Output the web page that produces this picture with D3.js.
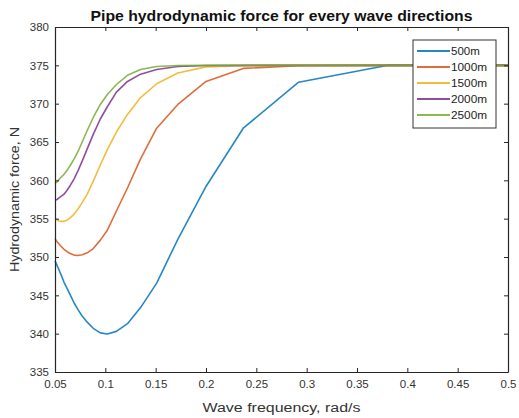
<!DOCTYPE html>
<html><head><meta charset="utf-8">
<script src="https://cdn.jsdelivr.net/npm/d3@7"></script>
<style>body{margin:0;background:#fff;} svg{display:block;font-family:"Liberation Sans",Arial,sans-serif;}</style>
</head><body>
<svg id="c" width="519" height="418"></svg>
<script>
const freqs = [0.05,0.052,0.054,0.056,0.059,0.062,0.065,0.069,0.073,0.077,0.082,0.088,0.095,0.102,0.111,0.122,0.135,0.151,0.172,0.2,0.237,0.292,0.381,0.5];
const d500  = [349.5,348.9,348.3,347.7,346.7,345.9,345.1,344.0,343.1,342.3,341.5,340.7,340.1,339.95,340.3,341.3,343.4,346.6,352.3,359.2,366.8,372.8,375.0,375.0];
const d1000 = [352.4,352.0,351.7,351.4,351.0,350.7,350.45,350.25,350.2,350.3,350.55,351.1,352.2,353.5,356.0,359.0,362.8,366.8,369.9,372.9,374.6,374.95,375.0,375.0];
const d1500 = [355.0,354.85,354.7,354.65,354.65,354.8,355.1,355.6,356.3,357.1,358.2,359.9,362.0,364.0,366.3,368.6,370.8,372.6,374.0,374.8,374.95,375.0,375.0,375.0];
const d2000 = [357.4,357.5,357.7,357.9,358.2,358.7,359.3,360.2,361.3,362.5,364.1,366.0,368.0,369.6,371.5,372.9,373.85,374.45,374.85,374.97,375.0,375.0,375.0,375.0];
const d2500 = [359.6,359.8,360.1,360.4,360.8,361.3,361.9,362.8,363.8,365.0,366.5,368.2,369.9,371.2,372.5,373.7,374.45,374.85,374.97,375.0,375.0,375.0,375.0,375.0];
const seriesNames = ["500m","1000m","1500m","2000m","2500m"];
const seriesData = [d500,d1000,d1500,d2000,d2500];
const colors = ["#0072BD","#D95319","#EDB120","#7E2F8E","#77AC30"];
const xTicks = [0.05,0.1,0.15,0.2,0.25,0.3,0.35,0.4,0.45,0.5];
const yTicks = [335,340,345,350,355,360,365,370,375,380];
const title = "Pipe hydrodynamic force for every wave directions";
const xLabel = "Wave frequency, rad/s";
const yLabel = "Hydrodynamic force, N";

const svg = d3.select("#c");
const L=55, R=508, T=27, B=372;
const x = d3.scaleLinear().domain([0.05,0.5]).range([L,R]);
const y = d3.scaleLinear().domain([335,380]).range([B,T]);
const axisColor = "#262626";

// lines
const line = d3.line().x((d,i)=>x(freqs[i])).y(d=>y(d)).curve(d3.curveLinear);
seriesData.forEach((s,k)=>{
  svg.append("path").datum(s).attr("d",line).attr("fill","none")
    .attr("stroke",colors[k]).attr("stroke-width",1.6).attr("stroke-opacity",0.85)
    .attr("stroke-linejoin","round");
});

// axes (box with inward ticks)
const fmtX = d=>String(d);
const gB = svg.append("g").attr("transform",`translate(0,${B})`)
  .call(d3.axisBottom(x).tickValues(xTicks).tickFormat(fmtX).tickSizeInner(-4).tickSizeOuter(0).tickPadding(8));
const gT = svg.append("g").attr("transform",`translate(0,${T})`)
  .call(d3.axisTop(x).tickValues(xTicks).tickFormat("").tickSizeInner(-4).tickSizeOuter(0));
const gL = svg.append("g").attr("transform",`translate(${L},0)`)
  .call(d3.axisLeft(y).tickValues(yTicks).tickFormat(d3.format("d")).tickSizeInner(-4).tickSizeOuter(0).tickPadding(6));
const gR = svg.append("g").attr("transform",`translate(${R},0)`)
  .call(d3.axisRight(y).tickValues(yTicks).tickFormat("").tickSizeInner(-4).tickSizeOuter(0));
[gB,gT,gL,gR].forEach(g=>{
  g.select(".domain").attr("stroke",axisColor).attr("stroke-width",1.2);
  g.selectAll(".tick line").attr("stroke",axisColor).attr("stroke-width",1);
  g.selectAll("text").attr("fill","#333").style("font-size","11.5px").style("font-family","'Liberation Sans',Arial,sans-serif");
});

// title
svg.append("text").attr("x",(L+R)/2).attr("y",21).attr("text-anchor","middle")
  .style("font-size","14px").style("font-weight","bold").attr("fill","#111")
  .attr("textLength",382).attr("lengthAdjust","spacingAndGlyphs").text(title);
// x label
svg.append("text").attr("x",(L+R)/2).attr("y",412).attr("text-anchor","middle")
  .style("font-size","12.5px").attr("fill","#333")
  .attr("textLength",158).attr("lengthAdjust","spacingAndGlyphs").text(xLabel);
// y label
svg.append("text").attr("transform",`translate(19,${(T+B)/2}) rotate(-90)`).attr("text-anchor","middle")
  .style("font-size","12.5px").attr("fill","#333")
  .attr("textLength",145).attr("lengthAdjust","spacingAndGlyphs").text(yLabel);

// legend
const lg = svg.append("g");
lg.append("rect").attr("x",413).attr("y",40).attr("width",83).attr("height",88)
  .attr("fill","#fff").attr("stroke","#333").attr("stroke-width",1);
seriesNames.forEach((n,k)=>{
  const yy = 51 + k*16;
  lg.append("line").attr("x1",417).attr("x2",450).attr("y1",yy).attr("y2",yy)
    .attr("stroke",colors[k]).attr("stroke-width",1.8).attr("stroke-opacity",0.85);
  lg.append("text").attr("x",451).attr("y",yy+4).style("font-size","11px").attr("fill","#222")
    .attr("textLength",n.length*7.2).attr("lengthAdjust","spacingAndGlyphs").text(n);
});
</script>
</body></html>
